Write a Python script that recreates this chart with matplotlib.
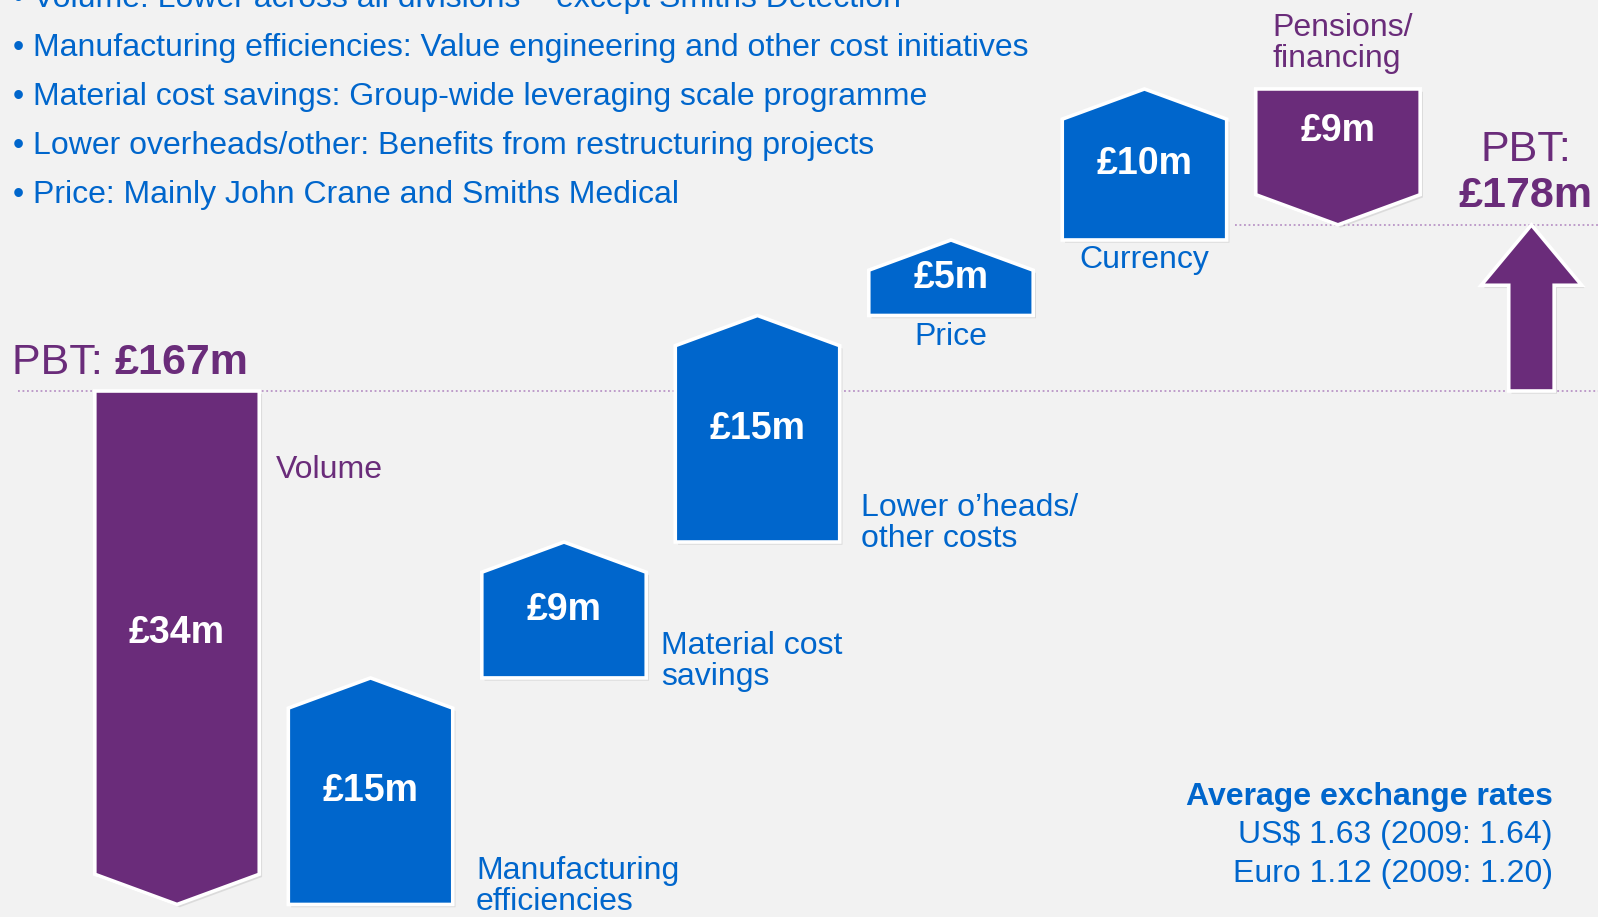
import matplotlib.pyplot as plt
from matplotlib.patches import Polygon
import matplotlib.patheffects as pe

plt.rcParams['font.family'] = ['Liberation Sans', 'DejaVu Sans']

# bridge data (£m)
categories = ["Volume", "Manufacturing\nefficiencies", "Material cost\nsavings",
              "Lower o\u2019heads/\nother costs", "Price", "Currency", "Pensions/\nfinancing"]
changes = [-34, 15, 9, 15, 5, 10, -9]
start_pbt = 167
end_pbt = 178

bullets = [
    "Volume: Lower across all divisions \u2013 except Smiths Detection",
    "Manufacturing efficiencies: Value engineering and other cost initiatives",
    "Material cost savings: Group-wide leveraging scale programme",
    "Lower overheads/other: Benefits from restructuring projects",
    "Price: Mainly John Crane and Smiths Medical",
]
fx_title = "Average exchange rates"
fx_lines = ["US$ 1.63 (2009: 1.64)", "Euro 1.12 (2009: 1.20)"]

PURPLE = '#6A2C7A'
BLUE = '#0066CC'
BG = '#F2F2F2'
DOT = '#B994C6'

fig = plt.figure(figsize=(15.98, 9.17), dpi=100)
fig.patch.set_facecolor(BG)
ax = fig.add_axes([0, 0, 1, 1])
ax.set_facecolor(BG)
ax.set_xlim(-0.915, 7.344)
ax.set_ylim(132.17, 192.89)
ax.axis('off')

shadow = [pe.SimplePatchShadow(offset=(2, -2), shadow_rgbFace='#9a9a9a', alpha=0.25), pe.Normal()]

w = 0.85
roof = 2.0


def block(x, lo, hi, up, color):
    if up:
        pts = [(x - w/2, lo), (x + w/2, lo), (x + w/2, hi - roof), (x, hi), (x - w/2, hi - roof)]
    else:
        pts = [(x - w/2, hi), (x + w/2, hi), (x + w/2, lo + roof), (x, lo), (x - w/2, lo + roof)]
    p = Polygon(pts, closed=True, facecolor=color, edgecolor='white', lw=2.6, zorder=3)
    p.set_path_effects(shadow)
    ax.add_patch(p)


# reference lines
ax.plot([0.011, 1], [start_pbt, start_pbt], transform=ax.get_yaxis_transform(),
        color=DOT, lw=1.3, ls=(0, (1, 1.5)), zorder=1)
ax.plot([0.773, 1], [end_pbt, end_pbt], transform=ax.get_yaxis_transform(),
        color=DOT, lw=1.3, ls=(0, (1, 1.5)), zorder=1)

level = start_pbt
label_pos = {
    0: dict(dx=0.51, ref='top', dy=-5.2, ha='left'),
    1: dict(dx=0.545, ref='lo', dy=1.2, ha='left'),
    2: dict(dx=0.50, ref='lo', dy=1.1, ha='left'),
    3: dict(dx=0.535, ref='lo', dy=1.2, ha='left'),
    4: dict(dx=0.0, ref='lo', dy=-1.4, ha='center'),
    5: dict(dx=0.0, ref='lo', dy=-1.3, ha='center'),
    6: dict(dx=-0.34, ref='top', dy=3.0, ha='left'),
}
for i, (cat, ch) in enumerate(zip(categories, changes)):
    lo, hi = sorted([level, level + ch])
    up = ch > 0
    color = BLUE if up else PURPLE
    block(i, lo, hi, up, color)
    if up:
        ymid = (lo + hi) / 2
    else:
        ymid = (hi + lo + roof) / 2 + (0.0 if i == 0 else 0.7)
    ax.text(i, ymid, f"\u00a3{abs(ch)}m", color='white', fontsize=27, fontweight='bold',
            ha='center', va='center', zorder=4)
    lp = label_pos[i]
    base = hi if lp['ref'] == 'top' else lo
    ax.text(i + lp['dx'], base + lp['dy'], cat, color=color, fontsize=23,
            ha=lp['ha'], va='center', linespacing=1.05, zorder=4)
    level += ch

# final PBT arrow
xa = len(changes)
shaft = 0.235
head = 0.52
hl = 4.0
arrow_pts = [(xa - shaft/2, start_pbt), (xa + shaft/2, start_pbt), (xa + shaft/2, end_pbt - hl),
             (xa + head/2, end_pbt - hl), (xa, end_pbt), (xa - head/2, end_pbt - hl),
             (xa - shaft/2, end_pbt - hl)]
arr = Polygon(arrow_pts, closed=True, facecolor=PURPLE, edgecolor='white', lw=2.6, zorder=3)
arr.set_path_effects(shadow)
ax.add_patch(arr)

# PBT labels
t1 = ax.text(-0.852, start_pbt + 1.1, "PBT: ", color=PURPLE, fontsize=31, ha='left', va='baseline')
ax.annotate(f"\u00a3{start_pbt}m", xy=(1, 0), xycoords=t1, color=PURPLE, fontsize=31,
            fontweight='bold', ha='left', va='bottom')
ax.text(xa - 0.03, end_pbt + 4.2, "PBT:", color=PURPLE, fontsize=31, ha='center', va='baseline')
ax.text(xa - 0.03, end_pbt + 1.2, f"\u00a3{end_pbt}m", color=PURPLE, fontsize=31,
        fontweight='bold', ha='center', va='baseline')

# bullet list
for k, line in enumerate(bullets):
    yb = 0.9925 - k * 0.0535
    ax.text(0.008, yb, "\u2022", transform=ax.transAxes, color=BLUE, fontsize=23, va='baseline')
    ax.text(0.0204, yb, line, transform=ax.transAxes, color=BLUE, fontsize=23, va='baseline')

# exchange rates
ax.text(0.9718, 0.1222, fx_title, transform=ax.transAxes, color=BLUE, fontsize=23,
        fontweight='bold', ha='right', va='baseline')
for k, line in enumerate(fx_lines):
    ax.text(0.9718, 0.0807 - k * 0.0425, line, transform=ax.transAxes, color=BLUE,
            fontsize=23, ha='right', va='baseline')

fig.savefig('out.png', dpi=100, facecolor=BG)
